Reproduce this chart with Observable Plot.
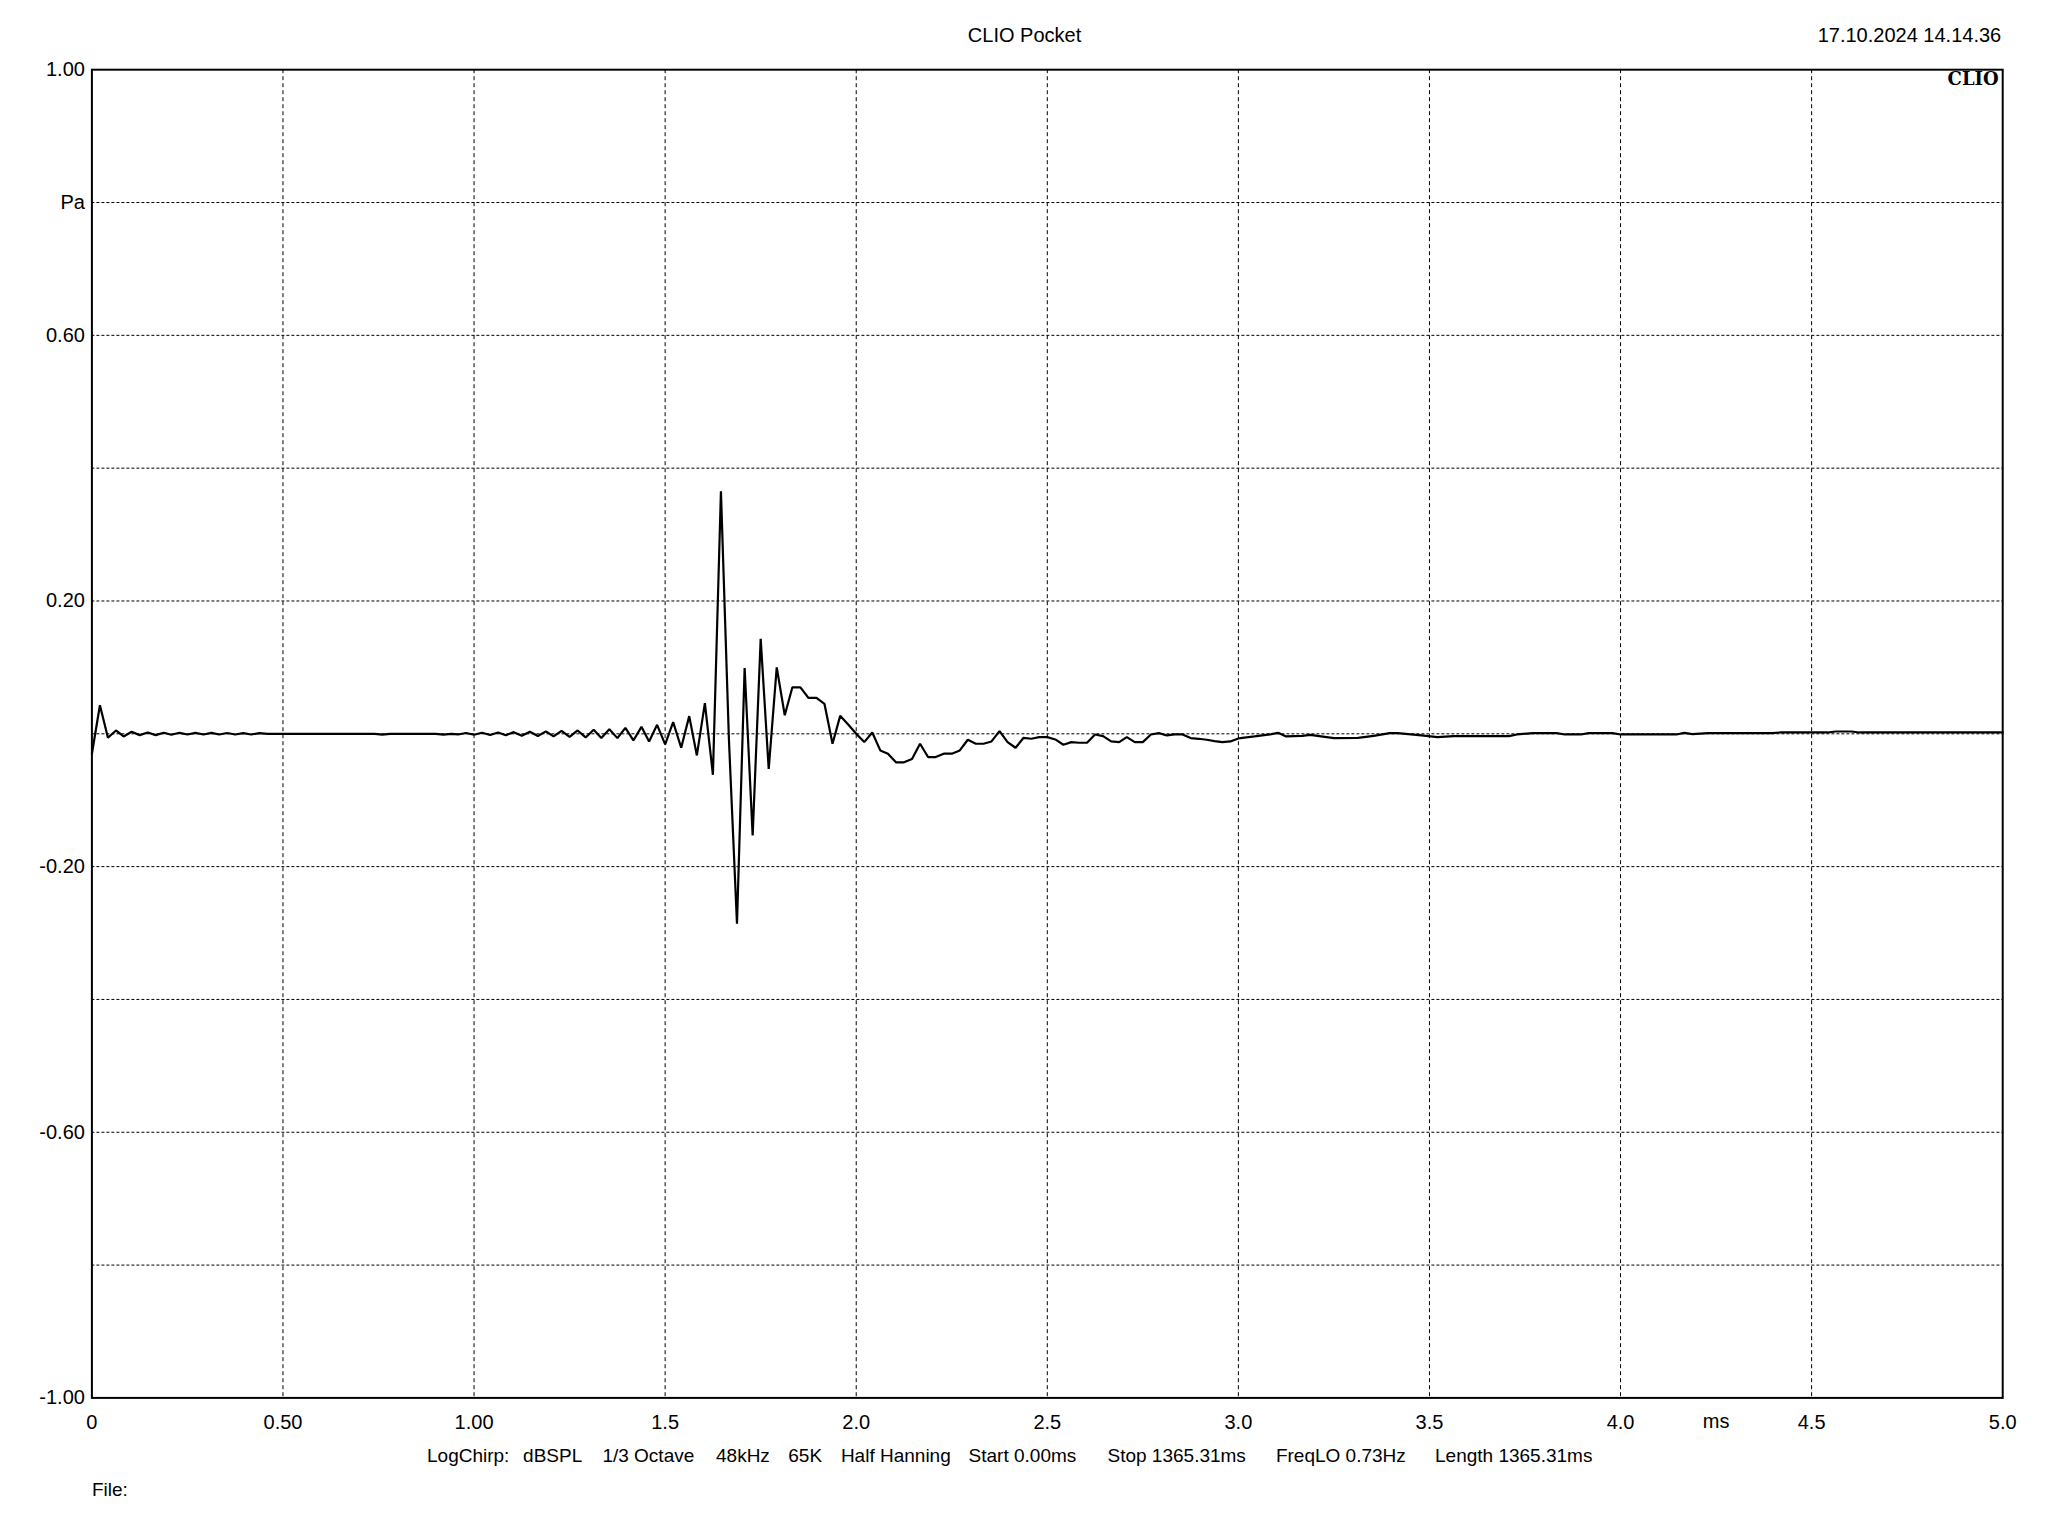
<!DOCTYPE html>
<html><head><meta charset="utf-8">
<script src="https://cdn.jsdelivr.net/npm/d3@7"></script>
<script src="https://cdn.jsdelivr.net/npm/@observablehq/plot@0.6"></script>
<style>html,body{margin:0;padding:0;background:#fff;} svg{display:block}</style>
</head><body><div id="chart"></div>
<script>
// Impulse response samples (time in ms, pressure in Pa)
const timeMs = [
  0, 0.021, 0.042, 0.063, 0.083, 0.104, 0.125, 0.146, 0.167, 0.188, 0.208, 0.229, 0.25, 0.271, 0.292, 0.313, 0.333, 0.354, 0.375, 0.396, 0.417, 0.438, 0.46,
  0.74, 0.76, 0.78, 0.90, 0.92, 0.94,
  0.958, 0.979, 1.0, 1.021, 1.042, 1.063, 1.083, 1.104, 1.125, 1.146, 1.167, 1.188, 1.208, 1.229, 1.25, 1.271, 1.292, 1.313, 1.333,
  1.354, 1.375, 1.396, 1.417, 1.438, 1.458, 1.479, 1.5, 1.521, 1.542, 1.563, 1.583, 1.604, 1.625, 1.646, 1.667, 1.688, 1.708, 1.729, 1.75,
  1.771, 1.792, 1.813, 1.833, 1.854, 1.875, 1.896, 1.917, 1.938, 1.958, 1.979, 2.0, 2.021, 2.042, 2.063, 2.083, 2.104, 2.125, 2.146, 2.167,
  2.188, 2.208, 2.229, 2.25, 2.271, 2.292, 2.313, 2.333, 2.354, 2.375, 2.396, 2.417, 2.438, 2.458, 2.479, 2.5, 2.521, 2.542, 2.563, 2.583,
  2.604, 2.625, 2.646, 2.667, 2.688, 2.708, 2.729, 2.75, 2.771, 2.792, 2.813, 2.833, 2.854, 2.875, 2.896, 2.917, 2.938, 2.958, 2.979, 3.0,
  3.042, 3.083, 3.104, 3.125, 3.167, 3.188, 3.25, 3.313, 3.354, 3.396, 3.417, 3.479, 3.521, 3.563, 3.708, 3.729, 3.771, 3.833, 3.854, 3.896,
  3.917, 3.979, 4.0, 4.146, 4.167, 4.188, 4.229, 4.396, 4.417, 4.542, 4.563, 4.604, 4.625, 5.0
];
const pressurePa = [
  -0.03, 0.043, -0.006, 0.005, -0.004, 0.003, -0.002, 0.002, -0.002, 0.0015, -0.0015, 0.0015, -0.001, 0.0015, -0.001, 0.0015, -0.001, 0.0012, -0.001, 0.001, -0.001, 0.001, 0,
  0, -0.0012, 0, 0, -0.0012, 0,
  -0.001, 0.0012, -0.0014, 0.0016, -0.0018, 0.002, -0.0022, 0.0025, -0.0028, 0.003, -0.0033, 0.0036, -0.004, 0.0043, -0.0047, 0.005, -0.0055, 0.006, -0.0062,
  0.007, -0.0065, 0.009, -0.010, 0.0105, -0.0115, 0.0135, -0.016, 0.0176, -0.021, 0.0266, -0.0326, 0.0462, -0.0617, 0.365, -0.010, -0.286, 0.099, -0.153, 0.143,
  -0.053, 0.100, 0.028, 0.070, 0.070, 0.054, 0.054, 0.045, -0.015, 0.027, 0.014, 0.0, -0.0125, 0.002, -0.025, -0.030, -0.043, -0.043, -0.038, -0.015,
  -0.035, -0.035, -0.030, -0.030, -0.025, -0.009, -0.015, -0.015, -0.0115, 0.004, -0.0125, -0.021, -0.006, -0.0075, -0.005, -0.005, -0.0085, -0.0165, -0.0125, -0.0135,
  -0.0135, -0.001, -0.0035, -0.0115, -0.0125, -0.005, -0.0125, -0.0125, -0.001, 0.001, -0.0025, -0.001, -0.001, -0.0065, -0.0075, -0.009, -0.011, -0.0125, -0.0115, -0.007,
  -0.004, -0.001, 0.0015, -0.004, -0.003, -0.0015, -0.0065, -0.006, -0.003, 0.001, 0.001, -0.0025, -0.005, -0.0035, -0.0035, -0.001, 0.001, 0.001, -0.001, -0.001,
  0.001, 0.001, -0.001, -0.001, 0.0015, -0.0005, 0.001, 0.001, 0.002, 0.002, 0.0035, 0.0035, 0.002, 0.002
];

const yTicks = [1, 0.8, 0.6, 0.2, -0.2, -0.6, -1];
const yTickLabels = ["1.00", "Pa", "0.60", "0.20", "-0.20", "-0.60", "-1.00"];
const xTicks = [0, 0.5, 1, 1.5, 2, 2.5, 3, 3.5, 4, 4.5, 5];
const xTickLabels = ["0", "0.50", "1.00", "1.5", "2.0", "2.5", "3.0", "3.5", "4.0", "4.5", "5.0"];
const xGrid = [0.5, 1, 1.5, 2, 2.5, 3, 3.5, 4, 4.5];
const yGrid = [0.8, 0.6, 0.4, 0.2, 0, -0.2, -0.4, -0.6, -0.8];
const titleText = "CLIO Pocket";
const dateText = "17.10.2024 14.14.36";
const logoText = "CLIO";
const xUnit = "ms";
const infoItems = ["LogChirp:", "dBSPL", "1/3 Octave", "48kHz", "65K", "Half Hanning", "Start 0.00ms", "Stop 1365.31ms", "FreqLO 0.73Hz", "Length 1365.31ms"];
const fileText = "File:";

// layout (pixels)
const W = 2048, H = 1536, L = 91.4, R = 2002.2, T = 69.2, B = 1397.4;
const infoX = [426.5, 522.6, 601.9, 715.5, 787.8, 840.4, 968.1, 1107, 1275.4, 1434.5];

const data = timeMs.map((t, i) => ({t, p: pressurePa[i]}));
const yMap = new Map(yTicks.map((v, i) => [v, yTickLabels[i]]));
const xMap = new Map(xTicks.map((v, i) => [v, xTickLabels[i]]));
const FS = 20, FSI = 19;

const chart = Plot.plot({
  width: W, height: H,
  marginLeft: L, marginRight: W - R, marginTop: T, marginBottom: H - B,
  style: {fontFamily: '"Liberation Sans", Arial, sans-serif', fontSize: FS + "px", color: "#000", background: "#fff"},
  x: {domain: [0, 5], axis: null, label: null},
  y: {domain: [-1, 1], axis: null, label: null},
  marks: [
    Plot.ruleX(xGrid, {x: d => d, stroke: "#000", strokeWidth: 1, strokeDasharray: "4,3"}),
    Plot.ruleY(yGrid, {y: d => d, stroke: "#000", strokeWidth: 1, strokeDasharray: "3,2"}),
    Plot.line(data, {x: "t", y: "p", stroke: "#000", strokeWidth: 2.2, strokeLinejoin: "miter"}),
    Plot.frame({stroke: "#000", strokeWidth: 2}),
    Plot.axisY(yTicks, {anchor: "left", label: null, tickSize: 0, tickPadding: 7, tickFormat: d => yMap.get(d), fontSize: FS}),
    Plot.axisX(xTicks, {anchor: "bottom", label: null, tickSize: 0, tickPadding: 17, tickFormat: d => xMap.get(d), fontSize: FS}),
    Plot.text([xUnit], {x: () => 4.25, text: d => d, frameAnchor: "bottom", dy: 23.8, lineAnchor: "middle", fontSize: FS}),
    Plot.text([titleText], {text: d => d, frameAnchor: "top", dx: 1024 - (L + R) / 2, dy: 35 - T, lineAnchor: "middle", textAnchor: "middle", fontSize: FS}),
    Plot.text([dateText], {text: d => d, frameAnchor: "top-right", dx: -1.5, dy: 35 - T, lineAnchor: "middle", textAnchor: "end", fontSize: FS}),
    Plot.text([logoText], {text: d => d, frameAnchor: "top-right", dx: -4, dy: 78.4 - T, lineAnchor: "middle", textAnchor: "end", fontSize: 18, fontWeight: "bold", fontFamily: '"DejaVu Serif", serif'}),
    ...infoItems.map((s, i) => Plot.text([s], {text: d => d, frameAnchor: "bottom-left", dx: infoX[i] - L, dy: 1455.5 - B, lineAnchor: "middle", textAnchor: "start", fontSize: FSI})),
    Plot.text([fileText], {text: d => d, frameAnchor: "bottom-left", dx: 0, dy: 1489.2 - B, lineAnchor: "middle", textAnchor: "start", fontSize: FSI})
  ]
});
document.getElementById("chart").appendChild(chart);
</script>
</body></html>
